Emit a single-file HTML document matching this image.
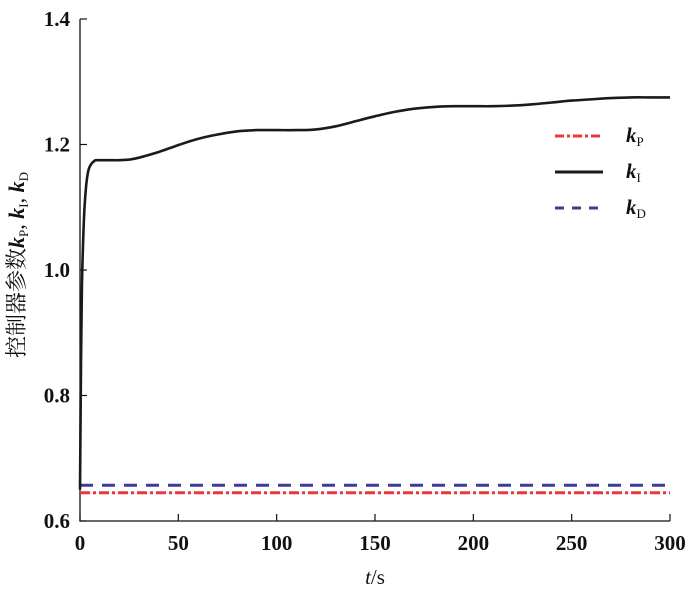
<!DOCTYPE html>
<html><head><meta charset="utf-8"><style>
body{margin:0;background:#fff}
svg{font-family:"Liberation Serif","Noto Serif CJK SC",serif}
</style></head><body>
<svg width="700" height="600" viewBox="0 0 700 600">
<g id="axes"></g>
<g id="series"></g>
<text x="24" y="265" transform="rotate(-90 24 265)" text-anchor="middle" font-size="22" fill="#111">控制器参数<tspan font-style="italic" font-weight="bold">k</tspan><tspan font-size="13" dy="4">P</tspan><tspan dy="-4">, </tspan><tspan font-style="italic" font-weight="bold">k</tspan><tspan font-size="13" dy="4">I</tspan><tspan dy="-4">, </tspan><tspan font-style="italic" font-weight="bold">k</tspan><tspan font-size="13" dy="4">D</tspan></text>
<text x="375" y="584" text-anchor="middle" font-size="21" fill="#111"><tspan font-style="italic">t</tspan>/s</text>
<g>
<line x1="555" y1="136" x2="603" y2="136" stroke="#e8383d" stroke-width="3" stroke-dasharray="9,3,3,3"/>
<text x="626" y="142" font-size="21" font-weight="bold" font-style="italic" fill="#111">k<tspan font-size="13" font-style="normal" font-weight="normal" dy="4">P</tspan></text>
<line x1="555" y1="172" x2="603" y2="172" stroke="#1a1a1a" stroke-width="3"/>
<text x="626" y="178" font-size="21" font-weight="bold" font-style="italic" fill="#111">k<tspan font-size="13" font-style="normal" font-weight="normal" dy="4">I</tspan></text>
<line x1="555" y1="208" x2="603" y2="208" stroke="#3c3c96" stroke-width="3" stroke-dasharray="9,8"/>
<text x="626" y="214" font-size="21" font-weight="bold" font-style="italic" fill="#111">k<tspan font-size="13" font-style="normal" font-weight="normal" dy="4">D</tspan></text>
</g>
</svg>
<script>
const xTicks=[0,50,100,150,200,250,300];
const yTicks=[0.6,0.8,1.0,1.2,1.4];
const yTickLabels=["0.6","0.8","1.0","1.2","1.4"];
const tKI=[0,0.5,1,2,3,4,5,6,7,8,10,15,20,25,30,40,50,60,70,80,90,100,110,120,130,140,150,160,170,180,190,200,210,220,230,240,250,260,270,280,290,300];
const vKI=[0.65,0.85,0.98,1.08,1.13,1.155,1.165,1.17,1.173,1.175,1.175,1.175,1.175,1.176,1.179,1.188,1.199,1.209,1.216,1.221,1.223,1.223,1.223,1.224,1.229,1.237,1.245,1.252,1.257,1.26,1.261,1.261,1.261,1.262,1.264,1.267,1.27,1.272,1.274,1.275,1.275,1.275];
const tConst=[0,300];
const vKP=[0.645,0.645];
const vKD=[0.657,0.657];
const X=t=>80+(t/300)*590;
const Y=v=>521-(v-0.6)/0.8*502;
const NS="http://www.w3.org/2000/svg";
const ax=document.getElementById('axes'),se=document.getElementById('series');
function mk(p,tag,a){const e=document.createElementNS(NS,tag);for(const k in a)e.setAttribute(k,a[k]);p.appendChild(e);return e;}
let l=mk(ax,'path',{d:`M${X(0)},${Y(1.4)}V${Y(0.6)}H${X(300)}`,fill:'none',stroke:'#111','stroke-width':1.3});


xTicks.forEach(t=>{
 const tk=mk(ax,'line',{x1:X(t),x2:X(t),y1:Y(0.6),y2:Y(0.6)-7,stroke:'#111','stroke-width':1.2});
 
 
 const tx=mk(ax,'text',{x:X(t),y:550,'text-anchor':'middle','font-size':21,'font-weight':'bold',fill:'#111'});
 tx.textContent=t;
 
 
});
yTicks.forEach((v,i)=>{
 const tk=mk(ax,'line',{x1:X(0),x2:X(0)+7,y1:Y(v),y2:Y(v),stroke:'#111','stroke-width':1.2});
 
 
 const tx=mk(ax,'text',{x:70,y:Y(v)+7,'text-anchor':'end','font-size':21,'font-weight':'bold',fill:'#111'});
 tx.textContent=yTickLabels[i];
 
 
});
function path(ts,vs){return ts.map((t,i)=>(i?'L':'M')+X(t).toFixed(1)+','+Y(vs[i]).toFixed(1)).join('');}
function smooth(ts,vs){
 const p=ts.map((t,i)=>[X(t),Y(vs[i])]);
 let d='M'+p[0][0].toFixed(1)+','+p[0][1].toFixed(1);
 for(let i=0;i<p.length-1;i++){
  const p0=p[Math.max(0,i-1)],p1=p[i],p2=p[i+1],p3=p[Math.min(p.length-1,i+2)];
  const c1=[p1[0]+(p2[0]-p0[0])/6,p1[1]+(p2[1]-p0[1])/6],c2=[p2[0]-(p3[0]-p1[0])/6,p2[1]-(p3[1]-p1[1])/6];
  d+=`C${c1[0].toFixed(1)},${c1[1].toFixed(1)} ${c2[0].toFixed(1)},${c2[1].toFixed(1)} ${p2[0].toFixed(1)},${p2[1].toFixed(1)}`;
 }
 return d;
}
const pd=mk(se,'path',{d:path(tConst,vKD),fill:'none',stroke:'#3c3c96','stroke-width':3,'stroke-dasharray':'13,9'});


const pp=mk(se,'path',{d:path(tConst,vKP),fill:'none',stroke:'#e8383d','stroke-width':3,'stroke-dasharray':'10,3,3,3'});


const pi=mk(se,'path',{d:smooth(tKI,vKI),fill:'none',stroke:'#1a1a1a','stroke-width':2.6,'stroke-linejoin':'round'});


</script>
</body></html>
